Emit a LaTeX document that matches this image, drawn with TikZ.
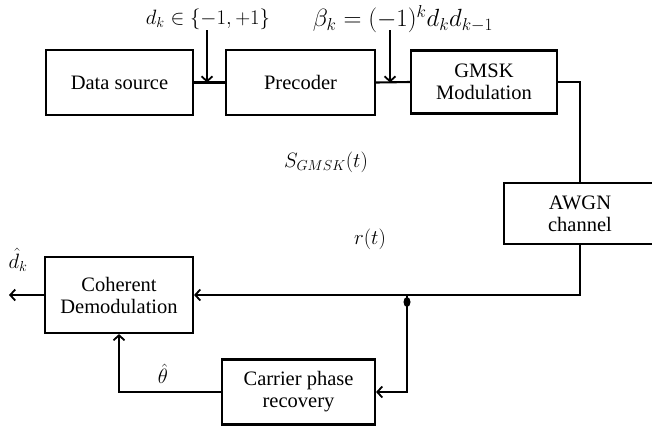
\documentclass[tikz,border=0pt]{standalone}
\usepackage{fontspec}
\setmainfont{Liberation Serif}
\usetikzlibrary{arrows.meta}
\begin{document}
\begin{tikzpicture}[x=1pt,y=-1pt,
  blk/.style={draw,line width=2.1pt,inner sep=0pt,align=center,font=\fontsize{20.5}{22}\selectfont},
  wire/.style={line width=2.1pt},
  arr/.style={wire,-{Straight Barb[length=5pt,width=11pt,line width=1.8pt]}},
  biglbl/.style={font=\fontsize{22.5}{26}\selectfont}]
\useasboundingbox (0,0) rectangle (652,426);
\node[blk,minimum width=147pt,minimum height=65pt] (ds) at (119.5,82.5) {Data source};
\node[blk,minimum width=149pt,minimum height=65pt] (pre) at (300.5,82.5) {Precoder};
\node[blk,minimum width=146pt,minimum height=63pt] (gmsk) at (484,82) {GMSK\\Modulation};
\node[blk,minimum width=152pt,minimum height=61pt] (awgn) at (580,213.5) {AWGN\\channel};
\node[blk,minimum width=148pt,minimum height=76pt] (coh) at (119,295) {Coherent\\Demodulation};
\node[blk,minimum width=153pt,minimum height=65pt] (cpr) at (298.5,392) {Carrier phase\\recovery};
% labels
\node[biglbl] (ldk) at (208,19) {$d_k \in \{-1,+1\}$};
\node[biglbl,font=\fontsize{24}{28}\selectfont] (lbeta) at (403,19) {$\beta_k=(-1)^k d_k d_{k-1}$};
\node[biglbl] (ls) at (326,162) {$S_{GMSK}(t)$};
\node[biglbl] (lr) at (370,239) {$r(t)$};
\node[biglbl] (ldh) at (18,260) {$\hat d_k$};
\node[biglbl] (lth) at (163,374) {$\hat\theta$};
% coordinates
\coordinate (j1) at (207,82.5);
\coordinate (j2) at (390,82.5);
\coordinate (s1) at (207,30);
\coordinate (s2) at (390,30);
\coordinate (tap) at (407,295);
\coordinate (out) at (9,295);
% connectors
\draw[wire] (ds.east) -- (pre.west);
\draw[wire] (pre.east) -- (gmsk.west);
\draw[arr] (s1) -- (j1);
\draw[arr] (s2) -- (j2);
\draw[wire] (gmsk.east) -| (awgn.north);
\draw[arr] (awgn.south) |- (coh.east);
\draw[arr] (coh.west) -- (out);
\fill (407,302) ellipse (3.5pt and 5pt);
\draw[arr] (tap) |- (cpr.east);
\draw[arr] (cpr.west) -| (coh.south);
\end{tikzpicture}
\end{document}
